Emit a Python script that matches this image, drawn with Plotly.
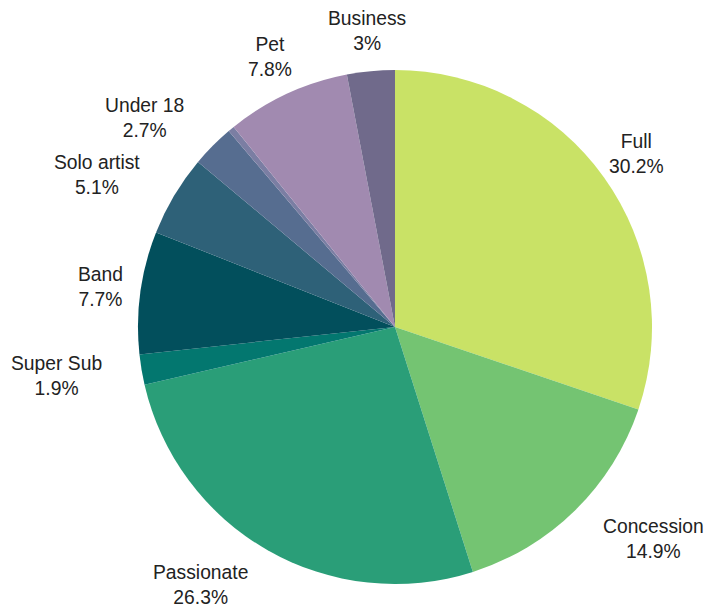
import math
import plotly.graph_objects as go

labels = ["Full", "Concession", "Passionate", "Super Sub", "Band", "Solo artist",
          "Under 18", "Other", "Pet", "Business"]
values = [30.2, 14.9, 26.3, 1.9, 7.7, 5.1, 2.7, 0.4, 7.8, 3.0]
show_label = [True, True, True, True, True, True, True, False, True, True]
colors = ["#c9e266", "#74c472", "#2a9e78", "#03776f", "#024f5c", "#2e6178",
          "#566d90", "#7b7ea3", "#a18ab0", "#706a8b"]

W, H = 707, 609
M = dict(l=0, r=0, t=70, b=25)
FONT = "Liberation Sans, Arial, sans-serif"
FS = 19.3
PLOT_W = W - M["l"] - M["r"]
PLOT_H = H - M["t"] - M["b"]
R = PLOT_H / 2.0                    # pie radius in px
CX, CY = 395.0, M["t"] + R          # pie centre in px
dom_half = R / PLOT_W
dom_c = (CX - M["l"]) / PLOT_W

# Arial / Liberation Sans advance widths (per 1000 em)
CW = {" ": 278, "%": 889, ".": 278, "B": 667, "C": 722, "F": 611, "P": 667,
      "S": 667, "U": 722, "a": 556, "b": 556, "c": 500, "d": 556, "e": 556,
      "i": 222, "l": 222, "n": 556, "o": 556, "p": 556, "r": 333, "s": 500,
      "t": 278, "u": 556}


def text_w(s):
    return sum(CW.get(ch, 556) for ch in s) * FS / 1000.0


total = sum(values)
annotations = []
cum = 0.0
for lab, v, show in zip(labels, values, show_label):
    mid = (cum + v / 2.0) / total * 2 * math.pi
    cum += v
    if not show:
        continue
    pct = f"{v / total * 100:.3g}%"
    dist = R + 40
    px = CX + dist * math.sin(mid)
    py = CY - dist * math.cos(mid)
    hw = max(text_w(lab), text_w(pct)) / 2.0
    hh = 23.0
    # nearest distance from the pie centre to a centred label box
    dx = max(abs(px - CX) - hw, 0)
    dy = max(abs(py - CY) - hh, 0)
    if math.hypot(dx, dy) < R:
        xanchor = "left" if px > CX else "right"
    else:
        xanchor = "center"
    annotations.append(dict(
        x=(px - M["l"]) / PLOT_W, y=(H - M["b"] - py) / PLOT_H,
        xref="paper", yref="paper", xanchor=xanchor, yanchor="middle",
        text=f"{lab}<br>{pct}", align="center", showarrow=False,
        borderpad=0, borderwidth=0,
        font=dict(family=FONT, size=FS, color="#222222"),
    ))

fig = go.Figure(go.Pie(
    labels=labels,
    values=values,
    marker=dict(colors=colors, line=dict(width=0)),
    sort=False,
    direction="clockwise",
    rotation=0,
    textinfo="none",
    showlegend=False,
    hoverinfo="label+percent",
    domain=dict(x=[dom_c - dom_half, dom_c + dom_half], y=[0, 1]),
))

fig.update_layout(
    width=W, height=H,
    margin=M,
    paper_bgcolor="white",
    plot_bgcolor="white",
    annotations=annotations,
)

fig.write_html("out.html")
